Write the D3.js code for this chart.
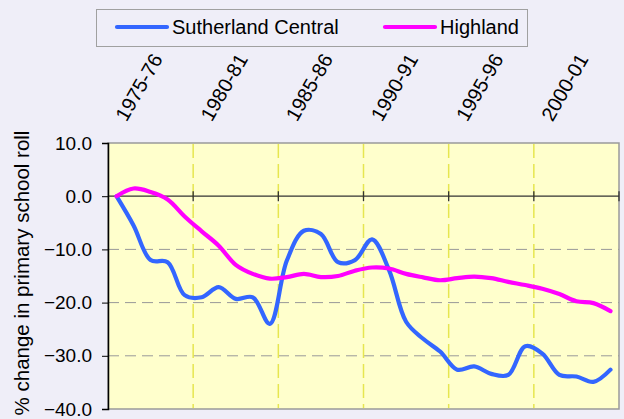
<!DOCTYPE html>
<html>
<head>
<meta charset="utf-8">
<script src="https://cdn.jsdelivr.net/npm/d3@7"></script>
<style>
  body { margin: 0; background: #efeef8; }
  svg { display: block; font-family: Arial, "Liberation Sans", sans-serif; }
</style>
</head>
<body>
<div class="visualisation"></div>
<script>
var years = ["1975-76", "1976-77", "1977-78", "1978-79", "1979-80", "1980-81", "1981-82", "1982-83", "1983-84", "1984-85",
  "1985-86", "1986-87", "1987-88", "1988-89", "1989-90", "1990-91", "1991-92", "1992-93", "1993-94", "1994-95",
  "1995-96", "1996-97", "1997-98", "1998-99", "1999-00", "2000-01", "2001-02", "2002-03", "2003-04", "2004-05"];
var tickLabels = ["1975-76", "1980-81", "1985-86", "1990-91", "1995-96", "2000-01"];
var yTicks = [10, 0, -10, -20, -30, -40];

var sutherland = [0, -5.5, -12.0, -12.4, -18.6, -19.0, -17.1, -19.3, -19.0, -24.0,
  -12.1, -6.5, -7.1, -12.4, -12.0, -8.1, -13.9, -23.6, -26.8, -29.2,
  -32.6, -32.0, -33.4, -33.6, -28.2, -29.6, -33.6, -33.9, -34.9, -32.6];
var highland = [0, 1.45, 0.8, -0.6, -3.8, -6.6, -9.3, -12.9, -14.6, -15.5,
  -15.2, -14.6, -15.2, -15.0, -14.0, -13.4, -13.6, -14.6, -15.25, -15.8,
  -15.4, -15.1, -15.4, -16.1, -16.7, -17.4, -18.4, -19.75, -20.1, -21.6];

var series = [
  {name: "Sutherland Central", values: sutherland, color: "#3366ff"},
  {name: "Highland", values: highland, color: "#ff00ff"}
];

var width = 624;
var height = 419;
var pLeft = 108, pRight = 619, pTop = 143, pBottom = 409;

var svg = d3.select(".visualisation").append("svg")
    .attr("width", width)
    .attr("height", height);

var x = d3.scaleBand().domain(years).range([pLeft, pRight]);
var y = d3.scaleLinear().domain([-40, 10]).range([pBottom, pTop]);
var cx = function(d) { return x(d) + x.bandwidth() / 2; };

// plot area
svg.append("rect")
    .attr("x", pLeft).attr("y", pTop)
    .attr("width", pRight - pLeft).attr("height", pBottom - pTop)
    .attr("fill", "#ffffcc")
    .attr("stroke", "#9a9a9a")
    .attr("stroke-width", 1.5);

// horizontal gridlines
svg.selectAll(".hgrid").data(yTicks.filter(function(d) { return d < 0 && d > -40; }))
  .enter().append("line")
    .attr("class", "hgrid")
    .attr("x1", pLeft).attr("x2", pRight)
    .attr("y1", function(d) { return y(d); })
    .attr("y2", function(d) { return y(d); })
    .attr("stroke", "#999")
    .attr("stroke-dasharray", "11,6");

// vertical gridlines every 5 years
var bounds = years.filter(function(d, i) { return i % 5 == 0 && i > 0; });
svg.selectAll(".vgrid").data(bounds)
  .enter().append("line")
    .attr("class", "vgrid")
    .attr("x1", function(d) { return x(d); })
    .attr("x2", function(d) { return x(d); })
    .attr("y1", pTop + 1).attr("y2", pBottom - 1)
    .attr("stroke", "#e6e650")
    .attr("stroke-width", 1.5)
    .attr("stroke-dasharray", "14,6");

// category axis along zero
svg.append("line")
    .attr("x1", pLeft).attr("x2", pRight)
    .attr("y1", y(0)).attr("y2", y(0))
    .attr("stroke", "#333")
    .attr("stroke-width", 1.3);
svg.selectAll(".xtick").data(bounds.concat(["end"]))
  .enter().append("line")
    .attr("class", "xtick")
    .attr("x1", function(d) { return d == "end" ? pRight : x(d); })
    .attr("x2", function(d) { return d == "end" ? pRight : x(d); })
    .attr("y1", y(0) - 5).attr("y2", y(0) + 5)
    .attr("stroke", "#333")
    .attr("stroke-width", 1.3);

svg.selectAll(".xlabel").data(tickLabels)
  .enter().append("text")
    .attr("class", "xlabel")
    .attr("transform", function(d) { return "translate(" + (cx(d) + 4) + ",119) rotate(-60)"; })
    .attr("dy", "0.35em")
    .attr("font-size", 20)
    .attr("fill", "#000")
    .text(function(d) { return d; });

// y axis
var yAxis = d3.axisLeft(y).tickValues(yTicks).tickFormat(d3.format(".1f"))
    .tickSize(6).tickPadding(10);
var ya = svg.append("g")
    .attr("transform", "translate(" + pLeft + ",0)")
    .call(yAxis);
ya.select(".domain").attr("stroke", "#000").attr("stroke-width", 1.5);
ya.selectAll(".tick line").attr("stroke", "#000");
ya.selectAll("text").attr("font-size", 19).attr("font-family", null).attr("fill", "#000");

svg.append("text")
    .attr("transform", "translate(29," + ((pTop + pBottom) / 2 - 3) + ") rotate(-90)")
    .attr("text-anchor", "middle")
    .attr("font-size", 20.5)
    .text("% change in primary school roll");

// lines
var line = d3.line()
    .x(function(d, i) { return cx(years[i]); })
    .y(function(d) { return y(d); })
    .curve(d3.curveCatmullRom.alpha(0.5));

svg.selectAll(".series").data(series)
  .enter().append("path")
    .attr("class", "series")
    .attr("d", function(d) { return line(d.values); })
    .attr("fill", "none")
    .attr("stroke", function(d) { return d.color; })
    .attr("stroke-width", 4.2)
    .attr("stroke-linejoin", "round")
    .attr("stroke-linecap", "round");

// legend
svg.append("rect")
    .attr("x", 96.5).attr("y", 9.5)
    .attr("width", 431).attr("height", 37)
    .attr("fill", "none")
    .attr("stroke", "#a0a0a0");

var legendX = [117, 385];
var items = svg.selectAll(".legend").data(series)
  .enter().append("g")
    .attr("class", "legend")
    .attr("transform", function(d, i) { return "translate(" + legendX[i] + ",27)"; });
items.append("line")
    .attr("x1", 0).attr("x2", 50)
    .attr("stroke", function(d) { return d.color; })
    .attr("stroke-width", 4.2)
    .attr("stroke-linecap", "round");
items.append("text")
    .attr("x", 55).attr("y", 7)
    .attr("font-size", 20)
    .text(function(d) { return d.name; });
</script>
</body>
</html>
